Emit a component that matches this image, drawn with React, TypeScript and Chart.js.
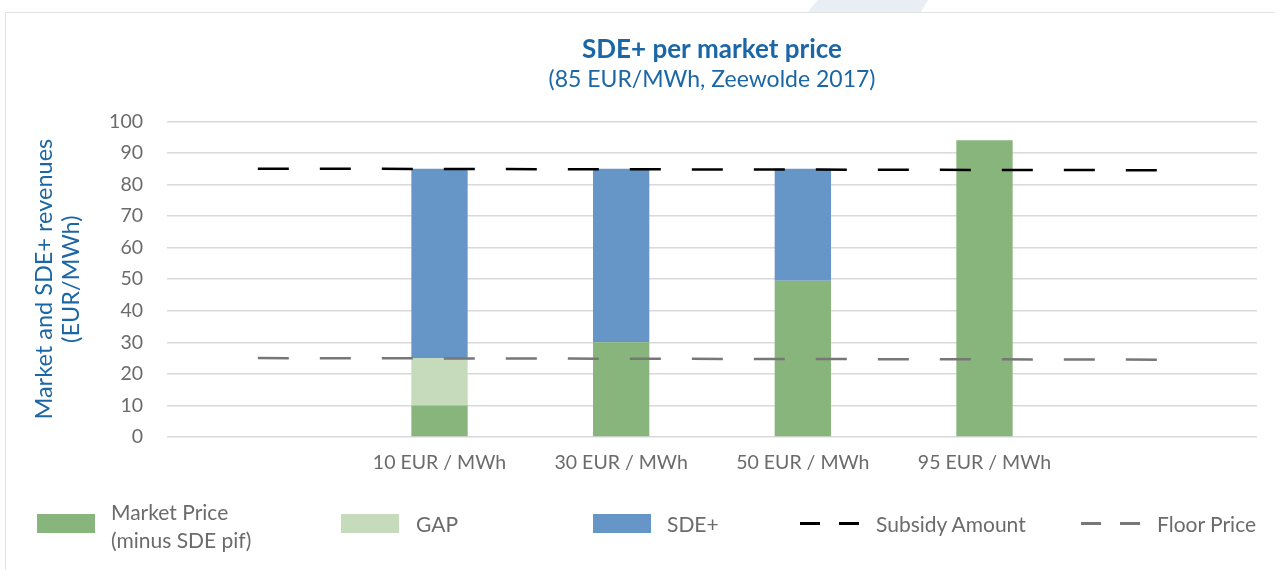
import React, { useEffect, useRef } from "react";
import { Chart, registerables } from "chart.js";

Chart.register(...registerables);

const categories = ["", "10 EUR / MWh", "30 EUR / MWh", "50 EUR / MWh", "95 EUR / MWh", ""];
const marketPrice = [null, 10, 30, 49.5, 94, null];
const gapValues = [null, 15, 0, 0, 0, null];
const sdePlus = [null, 60, 55, 35.5, 0, null];
const subsidyAmount = [85, 84.9, 84.8, 84.7, 84.6, 84.5];
const floorPrice = [25, 24.9, 24.8, 24.7, 24.6, 24.5];
const yTickValues = [0, 10, 20, 30, 40, 50, 60, 70, 80, 90, 100];

const FONT = "Lato, 'Open Sans', sans-serif";
const BLUE_TEXT = "#1b67a6";
const TICK = "#6b6b6b";
const GREEN = "#88b57b";
const LIGHT_GREEN = "#c6dabc";
const BLUE = "#6596c7";
const BLACK = "#000000";
const GREY = "#777777";

type LegendItem = { label: string[]; kind: "box" | "line"; color: string; x: number; textX: number };

const legendItems: LegendItem[] = [
  { label: ["Market Price", "(minus SDE pif)"], kind: "box", color: GREEN, x: 37, textX: 111 },
  { label: ["GAP"], kind: "box", color: LIGHT_GREEN, x: 341, textX: 416 },
  { label: ["SDE+"], kind: "box", color: BLUE, x: 593, textX: 667 },
  { label: ["Subsidy Amount"], kind: "line", color: BLACK, x: 800, textX: 876 },
  { label: ["Floor Price"], kind: "line", color: GREY, x: 1081, textX: 1157 },
];

export default function App() {
  const canvasRef = useRef<HTMLCanvasElement | null>(null);

  useEffect(() => {
    if (!canvasRef.current) return;
    const chart = new Chart(canvasRef.current, {
      type: "bar",
      data: {
        labels: categories,
        datasets: [
          {
            type: "line",
            label: "Subsidy Amount",
            data: subsidyAmount,
            borderColor: BLACK,
            borderWidth: 2.5,
            borderDash: [31, 31],
            pointRadius: 0,
            fill: false,
            stack: "subsidy",
            order: 1,
          } as any,
          {
            type: "line",
            label: "Floor Price",
            data: floorPrice,
            borderColor: GREY,
            borderWidth: 2.5,
            borderDash: [31, 31],
            pointRadius: 0,
            fill: false,
            stack: "floor",
            order: 1,
          } as any,
          {
            label: "Market Price (minus SDE pif)",
            data: marketPrice,
            backgroundColor: GREEN,
            stack: "bars",
            order: 2,
          },
          {
            label: "GAP",
            data: gapValues,
            backgroundColor: LIGHT_GREEN,
            stack: "bars",
            order: 2,
          },
          {
            label: "SDE+",
            data: sdePlus,
            backgroundColor: BLUE,
            stack: "bars",
            order: 2,
          },
        ],
      },
      options: {
        animation: false,
        responsive: false,
        maintainAspectRatio: false,
        layout: { padding: { left: 31, right: 18, top: 0, bottom: 0 } },
        datasets: {
          bar: { barPercentage: 0.31, categoryPercentage: 1 },
        } as any,
        plugins: {
          legend: { display: false },
          tooltip: { enabled: false },
          title: {
            display: true,
            text: "SDE+ per market price",
            color: BLUE_TEXT,
            fullSize: false,
            font: { family: FONT, size: 26, weight: "bold", lineHeight: 1.2 },
            padding: { top: 34, bottom: 0 },
          },
          subtitle: {
            display: true,
            text: "(85 EUR/MWh, Zeewolde 2017)",
            color: BLUE_TEXT,
            fullSize: false,
            font: { family: FONT, size: 23, lineHeight: 1.2 },
            padding: { top: 1, bottom: 27.5 },
          },
        },
        scales: {
          x: {
            stacked: true,
            grid: { display: false, drawTicks: false },
            border: { display: false },
            ticks: {
              color: TICK,
              font: { family: FONT, size: 19.5 },
              padding: 14,
              maxRotation: 0,
              autoSkip: false,
            },
            afterFit: (scale: any) => {
              scale.height = 133;
            },
          },
          y: {
            stacked: true,
            min: 0,
            max: 100,
            afterBuildTicks: (scale: any) => {
              scale.ticks = yTickValues.map((v) => ({ value: v }));
            },
            grid: { color: "#d9d9d9", lineWidth: 1.5, drawTicks: false },
            border: { display: false },
            ticks: {
              color: TICK,
              font: { family: FONT, size: 19.5 },
              padding: 24,
            },
            title: {
              display: true,
              text: ["Market and SDE+ revenues", "(EUR/MWh)"],
              color: BLUE_TEXT,
              font: { family: FONT, size: 23.5, lineHeight: 1.15 },
              padding: { top: 0, bottom: 0 },
            },
            afterFit: (scale: any) => {
              scale.width = 136;
            },
          },
        },
      },
    });
    return () => chart.destroy();
  }, []);

  return (
    <div
      style={{
        position: "fixed",
        left: 0,
        top: 0,
        width: 1275,
        height: 570,
        background: "#ffffff",
        overflow: "hidden",
        fontFamily: FONT,
      }}
    >
      <div
        style={{
          position: "absolute",
          left: 808,
          top: 0,
          width: 120,
          height: 12,
          background: "#e9eef5",
          clipPath: "polygon(8% 0, 100% 0, 94% 100%, 0 100%)",
        }}
      />
      <div
        style={{
          position: "absolute",
          left: 5,
          top: 12,
          width: 1290,
          height: 600,
          borderTop: "1.5px solid #e2e2e2",
          borderLeft: "1.5px solid #e2e2e2",
        }}
      />
      <canvas ref={canvasRef} width={1275} height={570} style={{ position: "absolute", left: 0, top: 0 }} />
      {legendItems.map((item, i) => (
        <React.Fragment key={i}>
          {item.kind === "box" ? (
            <div
              style={{
                position: "absolute",
                left: item.x,
                top: 514,
                width: 58,
                height: 19,
                background: item.color,
              }}
            />
          ) : (
            <>
              <div style={{ position: "absolute", left: item.x, top: 522, width: 20, height: 3, background: item.color }} />
              <div style={{ position: "absolute", left: item.x + 39, top: 522, width: 20, height: 3, background: item.color }} />
            </>
          )}
          <div
            style={{
              position: "absolute",
              left: item.textX,
              top: item.label.length > 1 ? 498 : 510,
              color: TICK,
              fontSize: 21,
              lineHeight: "28px",
              whiteSpace: "nowrap",
            }}
          >
            {item.label.map((l, j) => (
              <div key={j}>{l}</div>
            ))}
          </div>
        </React.Fragment>
      ))}
    </div>
  );
}
